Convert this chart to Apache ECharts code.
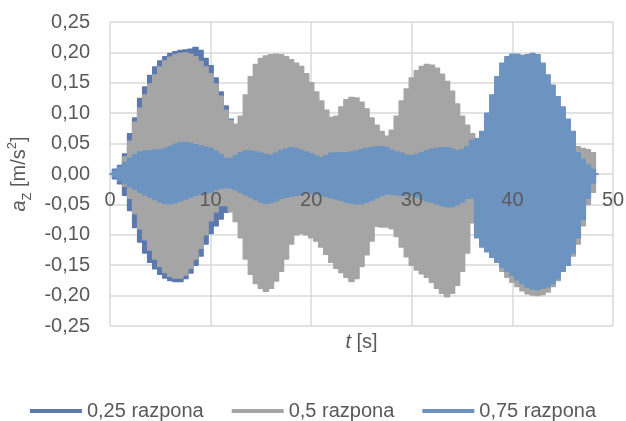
<!DOCTYPE html>
<html><head><meta charset="utf-8">
<script src="https://cdn.jsdelivr.net/npm/echarts@6/dist/echarts.min.js"></script>
<style>html,body{margin:0;padding:0;background:#fff}#c{width:626px;height:421px}</style>
</head><body><div id="c"></div>
<script>
// sample times [s]
const time = [
  0,0.5,1,1.5,2,2.5,3,3.5,4,4.5,
  5,5.5,6,6.5,7,7.5,8,8.5,9,9.5,
  10,10.5,11,11.5,12,12.5,13,13.5,14,14.5,
  15,15.5,16,16.5,17,17.5,18,18.5,19,19.5,
  20,20.5,21,21.5,22,22.5,23,23.5,24,24.5,
  25,25.5,26,26.5,27,27.5,28,28.5,29,29.5,
  30,30.5,31,31.5,32,32.5,33,33.5,34,34.5,
  35,35.5,36,36.5,37,37.5,38,38.5,39,39.5,
  40,40.5,41,41.5,42,42.5,43,43.5,44,44.5,
  45,45.5,46,46.5,47,47.5,48,48.5
];
const seriesNames = ['0,25 razpona', '0,5 razpona', '0,75 razpona'];

// envelope (positive / negative peaks) of a_Z [m/s2]
const s25Upper = [
  0,0.008,0.014,0.033,0.066,0.092,0.124,0.143,0.162,0.176,
  0.186,0.193,0.198,0.201,0.203,0.204,0.205,0.208,0.203,0.190,
  0.178,0.158,0.135,0.112,0.090,0.075,0.050,0.030,0.028,0.027,
  0.026,0.025,0.026,0.028,0.030,0.031,0.030,0.028,0.027,0.026,
  0.025,0.024,0.025,0.027,0.028,0.029,0.030,0.031,0.032,0.033,
  0.034,0.034,0.033,0.032,0.030,0.028,0.027,0.026,0.025,0.024,
  0.025,0.026,0.027,0.028,0.030,0.031,0.032,0.033,0.034,0.033,
  0.032,0.030,0.029,0.028,0.027,0.026,0.025,0.024,0.023,0.022,
  0.022,0.021,0.021,0.020,0.020,0.019,0.018,0.017,0.016,0.015,
  0.014,0.013,0.012,0.011,0.010,0.008,0.005,0
];
const s25Lower = [
  0,-0.008,-0.016,-0.035,-0.060,-0.088,-0.112,-0.130,-0.145,-0.156,
  -0.165,-0.171,-0.175,-0.177,-0.177,-0.172,-0.163,-0.150,-0.135,-0.115,
  -0.098,-0.085,-0.074,-0.063,-0.052,-0.040,-0.030,-0.028,-0.027,-0.026,
  -0.026,-0.027,-0.028,-0.029,-0.030,-0.029,-0.028,-0.027,-0.026,-0.025,
  -0.025,-0.026,-0.027,-0.028,-0.029,-0.030,-0.031,-0.032,-0.032,-0.033,
  -0.033,-0.032,-0.031,-0.030,-0.029,-0.028,-0.027,-0.026,-0.026,-0.025,
  -0.026,-0.027,-0.028,-0.029,-0.030,-0.031,-0.032,-0.033,-0.033,-0.032,
  -0.031,-0.030,-0.029,-0.028,-0.027,-0.026,-0.025,-0.024,-0.023,-0.022,
  -0.022,-0.021,-0.021,-0.020,-0.020,-0.019,-0.018,-0.017,-0.016,-0.015,
  -0.014,-0.013,-0.012,-0.011,-0.010,-0.008,-0.005,0
];
const s50Upper = [
  0,0.003,0.008,0.028,0.054,0.085,0.108,0.130,0.148,0.163,
  0.176,0.186,0.192,0.196,0.198,0.199,0.197,0.193,0.185,0.176,
  0.165,0.148,0.128,0.105,0.088,0.082,0.095,0.130,0.160,0.180,
  0.190,0.194,0.196,0.197,0.196,0.193,0.188,0.182,0.177,0.165,
  0.150,0.135,0.120,0.105,0.093,0.095,0.110,0.122,0.126,0.125,
  0.118,0.107,0.092,0.080,0.070,0.062,0.072,0.095,0.120,0.140,
  0.158,0.170,0.177,0.180,0.179,0.174,0.164,0.152,0.136,0.115,
  0.095,0.080,0.066,0.055,0.050,0.070,0.100,0.130,0.160,0.175,
  0.185,0.188,0.190,0.190,0.190,0.185,0.170,0.150,0.130,0.110,
  0.090,0.070,0.050,0.045,0.042,0.040,0.035,0
];
const s50Lower = [
  0,-0.003,-0.008,-0.020,-0.040,-0.065,-0.090,-0.108,-0.125,-0.140,
  -0.152,-0.162,-0.168,-0.171,-0.171,-0.166,-0.155,-0.140,-0.122,-0.100,
  -0.077,-0.062,-0.052,-0.052,-0.062,-0.078,-0.105,-0.140,-0.165,-0.180,
  -0.188,-0.193,-0.188,-0.176,-0.160,-0.140,-0.115,-0.100,-0.098,-0.100,
  -0.105,-0.110,-0.120,-0.132,-0.145,-0.155,-0.162,-0.170,-0.177,-0.172,
  -0.152,-0.133,-0.110,-0.086,-0.087,-0.087,-0.090,-0.103,-0.120,-0.136,
  -0.150,-0.158,-0.164,-0.170,-0.178,-0.188,-0.196,-0.202,-0.196,-0.183,
  -0.160,-0.130,-0.080,-0.060,-0.070,-0.100,-0.130,-0.145,-0.160,-0.170,
  -0.178,-0.185,-0.192,-0.197,-0.199,-0.200,-0.198,-0.194,-0.185,-0.175,
  -0.160,-0.150,-0.135,-0.115,-0.085,-0.050,-0.030,0
];
const s75Upper = [
  0,0.005,0.011,0.019,0.026,0.032,0.036,0.038,0.038,0.039,
  0.040,0.042,0.045,0.049,0.051,0.052,0.050,0.048,0.046,0.044,
  0.042,0.038,0.032,0.026,0.025,0.030,0.035,0.038,0.038,0.036,
  0.034,0.032,0.031,0.034,0.038,0.041,0.043,0.042,0.039,0.036,
  0.033,0.029,0.027,0.030,0.034,0.035,0.035,0.035,0.036,0.038,
  0.040,0.042,0.043,0.045,0.045,0.043,0.039,0.036,0.034,0.031,
  0.030,0.032,0.035,0.038,0.041,0.042,0.043,0.043,0.041,0.038,
  0.040,0.045,0.055,0.058,0.070,0.100,0.130,0.160,0.182,0.193,
  0.197,0.197,0.195,0.196,0.198,0.196,0.182,0.163,0.146,0.127,
  0.110,0.090,0.070,0.035,0.024,0.015,0.008,0
];
const s75Lower = [
  0,-0.005,-0.011,-0.016,-0.021,-0.025,-0.030,-0.034,-0.038,-0.042,
  -0.046,-0.048,-0.049,-0.047,-0.044,-0.041,-0.038,-0.035,-0.033,-0.032,
  -0.030,-0.026,-0.023,-0.022,-0.023,-0.026,-0.030,-0.034,-0.038,-0.042,
  -0.046,-0.048,-0.047,-0.044,-0.040,-0.038,-0.036,-0.035,-0.034,-0.031,
  -0.032,-0.033,-0.035,-0.037,-0.039,-0.041,-0.043,-0.046,-0.048,-0.049,
  -0.049,-0.046,-0.043,-0.039,-0.035,-0.033,-0.033,-0.034,-0.035,-0.035,
  -0.035,-0.038,-0.041,-0.044,-0.046,-0.049,-0.052,-0.054,-0.054,-0.050,
  -0.046,-0.040,-0.040,-0.105,-0.120,-0.128,-0.137,-0.145,-0.153,-0.160,
  -0.167,-0.174,-0.180,-0.186,-0.189,-0.190,-0.188,-0.186,-0.180,-0.172,
  -0.160,-0.150,-0.130,-0.105,-0.075,-0.040,-0.015,0
];

const colors = ['#5b79ae', '#a5a5a5', '#6d94c0'];
const FONT = "'Liberation Sans', Arial, sans-serif";
const TXT = '#595959';
const GRID = '#d9d9d9';

function envelopeRender(color) {
  return function (params, api) {
    if (params.dataIndexInside !== 0) return null;
    const n = params.dataInsideLength;
    const ts = [], up = [], lo = [];
    for (let j = 0; j < n; j++) {
      ts.push(api.value(0, j)); up.push(api.value(1, j)); lo.push(api.value(2, j));
    }
    const top = [], bot = [];
    for (let j = 0; j < n; j++) {
      const l = j === 0 ? ts[0] : (ts[j - 1] + ts[j]) / 2;
      const r = j === n - 1 ? ts[n - 1] : (ts[j] + ts[j + 1]) / 2;
      top.push(api.coord([l, up[j]]), api.coord([r, up[j]]));
      bot.push(api.coord([l, lo[j]]), api.coord([r, lo[j]]));
    }
    return {
      type: 'polygon',
      shape: { points: top.concat(bot.reverse()) },
      style: { fill: color, stroke: color, lineWidth: 1.5, lineJoin: 'round' }
    };
  };
}

function makeSeries(name, upper, lower, color) {
  return {
    name: name,
    type: 'custom',
    xAxisIndex: 0,
    yAxisIndex: 0,
    renderItem: envelopeRender(color),
    itemStyle: { color: color },
    encode: { x: 0, y: [1, 2] },
    data: time.map((t, i) => [t, upper[i], lower[i]]),
    silent: true
  };
}

const chart = echarts.init(document.getElementById('c'), null, { renderer: 'canvas' });
chart.setOption({
  animation: false,
  backgroundColor: '#ffffff',
  textStyle: { fontFamily: FONT },
  grid: { left: 110, right: 13, top: 22, bottom: 95, containLabel: false, outerBoundsMode: 'none' },
  legend: {
    data: seriesNames,
    left: 'center',
    top: 396,
    icon: 'rect',
    itemWidth: 52,
    itemHeight: 4,
    itemGap: 28,
    textStyle: { fontSize: 20, color: TXT, fontFamily: FONT }
  },
  xAxis: [
    {
      // grid lines (under the data)
      type: 'value',
      min: 0, max: 50, interval: 10,
      position: 'bottom',
      axisLine: { show: false, onZero: false },
      axisTick: { show: false },
      axisLabel: { show: false },
      splitLine: { show: true, lineStyle: { color: GRID, width: 1.5 } }
    },
    {
      // tick labels and title at the zero line (over the data)
      type: 'value',
      min: 0, max: 50, interval: 10,
      position: 'bottom',
      offset: -152,
      z: 10,
      axisLine: { show: false, onZero: false },
      axisTick: { show: false },
      splitLine: { show: false },
      axisLabel: { fontSize: 20, color: TXT, margin: 16, fontFamily: FONT },
      name: '{it|t} [s]',
      nameLocation: 'middle',
      nameGap: 158,
      nameTextStyle: {
        fontSize: 20, color: TXT, fontFamily: FONT,
        rich: { it: { fontStyle: 'italic', fontSize: 20, color: TXT, fontFamily: FONT } }
      }
    }
  ],
  yAxis: {
    type: 'value',
    min: -0.25, max: 0.25, interval: 0.05,
    axisLine: { show: false, onZero: false },
    axisTick: { show: false },
    axisLabel: {
      fontSize: 20, color: TXT, margin: 20, fontFamily: FONT,
      formatter: function (v) {
        if (Math.abs(v) < 1e-9) v = 0;
        return v.toFixed(2).replace('.', ',');
      }
    },
    splitLine: { show: true, lineStyle: { color: GRID, width: 1.5 } },
    name: '{it|a}{sub|Z} [m/s{sup|2}]',
    nameLocation: 'middle',
    nameRotate: 90,
    nameGap: 70,
    nameTextStyle: {
      fontSize: 20, color: TXT, fontFamily: FONT, lineHeight: 28,
      rich: {
        it: { fontStyle: 'italic', fontSize: 20, color: TXT, fontFamily: FONT, lineHeight: 28 },
        sub: { fontSize: 13, color: TXT, fontFamily: FONT, lineHeight: 13, verticalAlign: 'bottom' },
        sup: { fontSize: 13, color: TXT, fontFamily: FONT, lineHeight: 13, verticalAlign: 'top' }
      }
    }
  },
  series: [
    makeSeries(seriesNames[0], s25Upper, s25Lower, colors[0]),
    makeSeries(seriesNames[1], s50Upper, s50Lower, colors[1]),
    makeSeries(seriesNames[2], s75Upper, s75Lower, colors[2])
  ]
});
</script>
</body></html>
